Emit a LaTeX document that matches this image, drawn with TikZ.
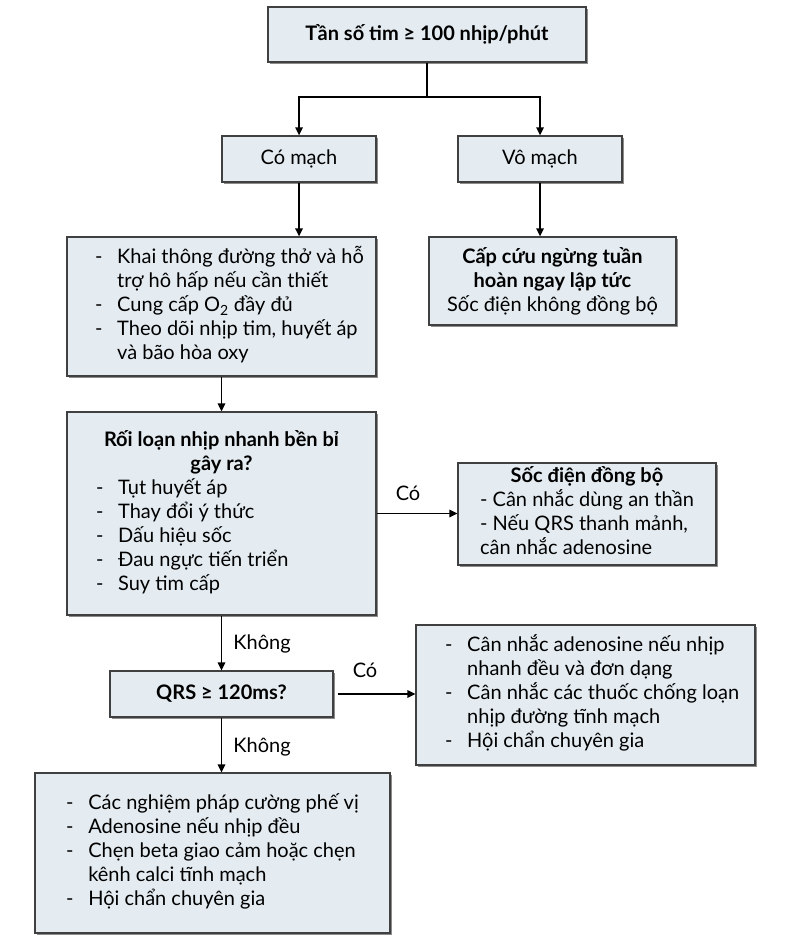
\documentclass[tikz,border=0pt]{standalone}
\usepackage{fontspec}
\setmainfont{Lato}
\usetikzlibrary{arrows.meta,shadows}
\definecolor{boxfill}{HTML}{E4ECF2}

\tikzset{
  box/.style={draw=black!75, line width=0.9pt, fill=boxfill, align=center, inner sep=2pt,
    drop shadow={shadow xshift=1.3pt, shadow yshift=-1.3pt, fill=black!45, opacity=1}},
  link/.style={line width=1.3pt, -{Triangle[length=6pt,width=5.5pt]}},
  every node/.style={font=\fontsize{15}{18}\selectfont}
}

\begin{document}
\begin{tikzpicture}[x=0.75pt, y=-0.75pt]
\useasboundingbox (0,0) rectangle (793,944);

% Top row
\node[box, minimum width=238.5pt, minimum height=41.25pt] (rate) at (427,34.5) {\textbf{Tần số tim ≥ 100 nhịp/phút}};
\node[box, minimum width=115.5pt, minimum height=34.5pt] (pulse) at (299,159) {Có mạch};
\node[box, minimum width=123pt, minimum height=34.5pt] (nopulse) at (540,159) {Vô mạch};
\coordinate (fork) at (427,97);

% Second row
\node[box, minimum width=231.75pt, minimum height=104.25pt] (care) at (221.5,306.5) {%
  \hspace*{12pt}\begin{tabular}{@{}l@{\hspace{11pt}}l@{}}
  - & Khai thông đường thở và hỗ\\
    & trợ hô hấp nếu cần thiết\\
  - & Cung cấp O\textsubscript{2} đầy đủ\\
  - & Theo dõi nhịp tim, huyết áp\\
    & và bão hòa oxy
  \end{tabular}};
\node[box, minimum width=185.25pt, minimum height=66pt] (cpr) at (552.5,281) {%
  \textbf{Cấp cứu ngừng tuần}\\\textbf{hoàn ngay lập tức}\\Sốc điện không đồng bộ};

% Unstable?
\node[box, minimum width=231.75pt, minimum height=152.25pt] (unstable) at (221.5,513.5) {%
  \begin{tabular}{@{}l@{\hspace{11pt}}l@{}}
  \multicolumn{2}{@{}c@{}}{\textbf{Rối loạn nhịp nhanh bền bỉ}}\\
  \multicolumn{2}{@{}c@{}}{\textbf{gây ra?}}\\
  \hspace*{-6pt}- & Tụt huyết áp\\
  \hspace*{-6pt}- & Thay đổi ý thức\\
  \hspace*{-6pt}- & Dấu hiệu sốc\\
  \hspace*{-6pt}- & Đau ngực tiến triển\\
  \hspace*{-6pt}- & Suy tim cấp
  \end{tabular}};
\node[box, minimum width=193.5pt, minimum height=76.5pt] (sync) at (587,514) {%
  \begin{tabular}{@{}l@{}}
  \multicolumn{1}{@{}c@{}}{\textbf{Sốc điện đồng bộ}}\\
  - Cân nhắc dùng an thần\\
  - Nếu QRS thanh mảnh,\\
  cân nhắc adenosine
  \end{tabular}};

% QRS
\node[box, minimum width=167.25pt, minimum height=34.5pt] (qrs) at (221.5,694) {\textbf{QRS ≥ 120ms?}};
\node[box, minimum width=254.25pt, minimum height=105pt] (wide) at (585.5,695) {%
  \hspace*{10pt}\begin{tabular}{@{}l@{\hspace{11pt}}l@{}}
  - & Cân nhắc adenosine nếu nhịp\\
    & nhanh đều và đơn dạng\\
  - & Cân nhắc các thuốc chống loạn\\
    & nhịp đường tĩnh mạch\\
  - & Hội chẩn chuyên gia
  \end{tabular}};
\node[box, minimum width=266.25pt, minimum height=120pt] (narrow) at (212.5,853) {%
  \begin{tabular}{@{}l@{\hspace{11pt}}l@{}}
  - & Các nghiệm pháp cường phế vị\\
  - & Adenosine nếu nhịp đều\\
  - & Chẹn beta giao cảm hoặc chẹn\\
    & kênh calci tĩnh mạch\\
  - & Hội chẩn chuyên gia
  \end{tabular}};

% Labels
\node (yes1) at (408,493) {Có};
\node (no1) at (262,644) {Không};
\node (yes2) at (365,670) {Có};
\node (no2) at (262,747) {Không};

% Connectors
\draw[line width=1.3pt] (rate.south) -- (fork);
\draw[link] (fork) -| (pulse.north);
\draw[link] (fork) -| (nopulse.north);
\draw[link] (pulse.south) -- (pulse.south |- care.north);
\draw[link] (nopulse.south) -- (nopulse.south |- cpr.north);
\draw[link] (care.south) -- (unstable.north);
\draw[link] (unstable.east) -- (unstable.east -| sync.west);
\draw[link] (unstable.south) -- (qrs.north);
\draw[link, shorten <=3pt] (qrs.east) -- (qrs.east -| wide.west);
\draw[link] (qrs.south) -- (qrs.south |- narrow.north);
\end{tikzpicture}
\end{document}
